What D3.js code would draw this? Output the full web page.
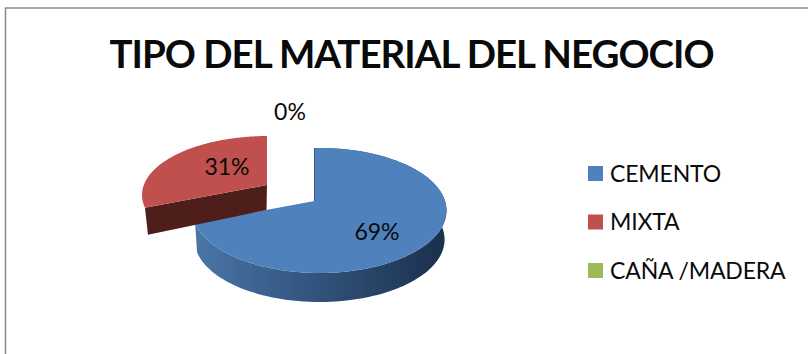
<!DOCTYPE html>
<html>
<head>
<meta charset="utf-8">
<script src="https://cdn.jsdelivr.net/npm/d3@7"></script>
<style>
html,body{margin:0;padding:0;background:#fff;}
svg{display:block;}
text{font-family:Lato,"Open Sans",sans-serif;fill:#0a0a0a;}
</style>
</head>
<body>
<svg id="chart" width="808" height="354"></svg>
<script>
// Chart content
const chartTitle = "TIPO DEL MATERIAL DEL NEGOCIO";
const categories = ["CEMENTO", "MIXTA", "CAÑA /MADERA"];
const values = [69, 31, 0];
const colors = ["#4f81bd", "#c0504d", "#9bbb59"];

// Exploded 3D pie geometry: each slice has its own apex and rim ellipse
const sliceGeometry = [
  {apex:[314.5,201], center:[319.5,210.5], rx:127, ry:62.5, depth:29, labelAt:[377,232]},
  {apex:[267,185],   center:[268,195],     rx:126, ry:59,   depth:26, labelAt:[227,167]},
  {apex:[290,165],   center:[290,165],     rx:100, ry:47,   depth:0,  labelAt:[290,112]}
];
const foreshorten = 0.47;

const svg = d3.select("#chart");
const defs = svg.append("defs");
const sideGrad = defs.append("linearGradient").attr("id","blueSide")
  .attr("gradientUnits","userSpaceOnUse").attr("x1",194).attr("x2",446).attr("y1",0).attr("y2",0);
[[0,"#4a76a8"],[0.45,"#33557f"],[1,"#1a304c"]].forEach(([o,c]) =>
  sideGrad.append("stop").attr("offset",o).attr("stop-color",c));

// Frame around the chart area
svg.append("path").attr("d","M5.5,354V8H808").attr("fill","none")
  .attr("stroke","#8f8f8f").attr("stroke-width",1.6);

svg.append("text").attr("x",411.5).attr("y",68).attr("text-anchor","middle")
  .attr("font-size",38.5).attr("font-weight",700).attr("letter-spacing",-1).attr("fill","#000").text(chartTitle);

const pieData = d3.pie().sort(null).value(d => d)(values);

// Where a ray from the apex at pie angle `a` meets the slice's rim ellipse
function rimPoint(g, a) {
  const dx = Math.sin(a), dy = -Math.cos(a) * foreshorten;
  const ox = (g.apex[0]-g.center[0])/g.rx, oy = (g.apex[1]-g.center[1])/g.ry;
  const ux = dx/g.rx, uy = dy/g.ry;
  const A = ux*ux+uy*uy, B = 2*(ox*ux+oy*uy), C = ox*ox+oy*oy-1;
  const t = (-B+Math.sqrt(B*B-4*A*C))/(2*A);
  return [g.apex[0]+t*dx, g.apex[1]+t*dy];
}
function rimArc(g, d) {
  return d3.range(0,121).map(i => rimPoint(g, d.startAngle+(d.endAngle-d.startAngle)*i/120));
}
const line = d3.line();

// Blue slice: outer wall, thin inner wall, then top face
{
  const d = pieData[0], g = sliceGeometry[0], rim = rimArc(g,d);
  const base = rim.map(([x,y]) => [g.center[0]+(x-g.center[0])*0.985, y+g.depth]);
  svg.append("path").attr("d", line(rim.concat(base.slice().reverse()))+"Z").attr("fill","url(#blueSide)");
  svg.append("path").attr("d", line([rim[0],[g.apex[0]+1.2,g.apex[1]],g.apex])+"Z")
    .attr("fill","#1f3550").attr("stroke","#1f3550").attr("stroke-width",1);
  svg.append("path").attr("d", line([g.apex].concat(rim))+"Z").attr("fill",colors[0]);
}
// Red slice: the inner wall faces the viewer, so it goes over the blue slice
{
  const d = pieData[1], g = sliceGeometry[1], rim = rimArc(g,d);
  const L = rim[0];
  const wall = [L,g.apex,[g.apex[0]-0.5,g.apex[1]+g.depth-1],[L[0]+3,L[1]+g.depth+1]];
  svg.append("path").attr("d", line(wall)+"Z").attr("fill","#4e1f1a");
  svg.append("path").attr("d", line([g.apex].concat(rim))+"Z").attr("fill",colors[1]);
}

// Percentage labels
const total = d3.sum(values);
svg.selectAll("text.pct").data(pieData).join("text").attr("class","pct")
  .attr("x",(d,i)=>sliceGeometry[i].labelAt[0]).attr("y",(d,i)=>sliceGeometry[i].labelAt[1]+8)
  .attr("text-anchor","middle").attr("font-size",23)
  .text(d => Math.round(d.value/total*100)+"%");

// Legend
const legendY = d3.scalePoint().domain(categories).range([173.5,270.5]);
const legend = svg.selectAll("g.legend").data(categories).join("g").attr("class","legend")
  .attr("transform", c => `translate(588,${legendY(c)})`);
legend.append("rect").attr("x",0).attr("y",-7.5).attr("width",15).attr("height",15)
  .attr("fill",(c,i)=>colors[i]);
legend.append("text").attr("x",22).attr("y",8).attr("font-size",23).attr("letter-spacing",-0.15).text(c=>c);
</script>
</body>
</html>
